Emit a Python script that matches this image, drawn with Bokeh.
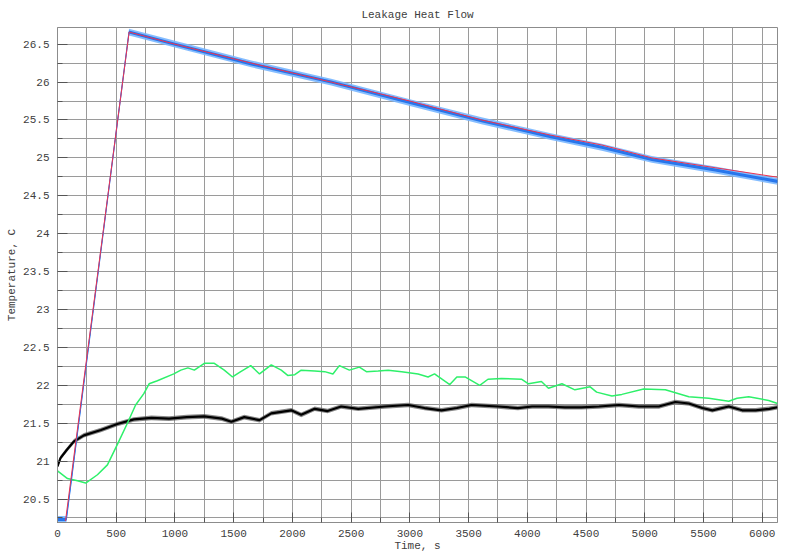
from bokeh.plotting import figure
from bokeh.models import FixedTicker, Range1d
from bokeh.embed import file_html
from bokeh.resources import INLINE

# ---- data ----
x_ticks = [0, 500, 1000, 1500, 2000, 2500, 3000, 3500, 4000, 4500, 5000, 5500, 6000]
x_tick_labels = ["0", "500", "1000", "1500", "2000", "2500", "3000", "3500", "4000", "4500", "5000", "5500", "6000"]
y_ticks = [20.5, 21.0, 21.5, 22.0, 22.5, 23.0, 23.5, 24.0, 24.5, 25.0, 25.5, 26.0, 26.5]
y_tick_labels = ["20.5", "21", "21.5", "22", "22.5", "23", "23.5", "24", "24.5", "25", "25.5", "26", "26.5"]

# measured sensor (blue, noisy)
meas_time = [0, 75, 609, 1000, 1650, 2330, 3000, 3610, 4200, 4634, 5060, 5600, 6130]
meas_temp = [20.23, 20.23, 26.66, 26.50, 26.24, 26.00, 25.73, 25.49, 25.28, 25.14, 24.98, 24.84, 24.69]

# model (red)
model_time = [68, 610, 1000, 1650, 2330, 3000, 3610, 4200, 4634, 5060, 5600, 6130]
model_temp = [20.21, 26.66, 26.50, 26.25, 26.00, 25.75, 25.50, 25.30, 25.17, 25.00, 24.87, 24.745]

# green sensor
green_time = [0, 85, 170, 240, 340, 425, 510, 595, 665, 735, 780, 850, 990, 1050, 1110, 1165, 1250, 1335,
              1420, 1490, 1560, 1645, 1720, 1820, 1905, 1960, 2020, 2075, 2190, 2275, 2345, 2400, 2485, 2570,
              2630, 2730, 2815, 2930, 3070, 3155, 3210, 3340, 3400, 3470, 3595, 3665, 3780, 3950, 4010, 4120,
              4180, 4295, 4405, 4535, 4590, 4720, 4805, 4990, 5175, 5375, 5545, 5715, 5785, 5885, 6055, 6130]
green_temp = [20.87, 20.77, 20.74, 20.71, 20.82, 20.95, 21.22, 21.50, 21.74, 21.89, 22.02, 22.06, 22.15, 22.20,
              22.23, 22.20, 22.29, 22.29, 22.20, 22.11, 22.18, 22.26, 22.15, 22.27, 22.20, 22.13, 22.14, 22.20,
              22.19, 22.18, 22.15, 22.26, 22.20, 22.24, 22.18, 22.19, 22.20, 22.18, 22.15, 22.11, 22.15, 22.01,
              22.11, 22.11, 22.00, 22.08, 22.09, 22.08, 22.02, 22.05, 21.96, 22.02, 21.94, 21.98, 21.91, 21.86,
              21.88, 21.95, 21.94, 21.85, 21.83, 21.79, 21.83, 21.85, 21.80, 21.76]

# black sensor
black_time = [0, 25, 80, 140, 225, 370, 510, 650, 800, 950, 1100, 1250, 1400, 1480, 1590, 1720, 1820, 1990,
              2075, 2190, 2300, 2415, 2560, 2785, 2985, 3125, 3270, 3400, 3525, 3750, 3920, 4040, 4180, 4320,
              4460, 4610, 4780, 4950, 5120, 5260, 5375, 5490, 5575, 5715, 5830, 5945, 6060, 6130]
black_temp = [20.93, 21.04, 21.15, 21.26, 21.34, 21.41, 21.49, 21.55, 21.57, 21.56, 21.58, 21.59, 21.56, 21.52,
              21.58, 21.54, 21.63, 21.67, 21.61, 21.69, 21.66, 21.72, 21.69, 21.72, 21.74, 21.70, 21.67, 21.70,
              21.74, 21.72, 21.70, 21.72, 21.72, 21.71, 21.71, 21.72, 21.74, 21.72, 21.72, 21.78, 21.76, 21.70,
              21.67, 21.72, 21.67, 21.67, 21.69, 21.71]

# noise-band half widths (style: visual thickness of the noisy traces)
meas_noise_outer = 0.045
meas_noise_inner = 0.02
black_noise = 0.03

FONT = "Liberation Mono"
TXT = "#404040"

p = figure(width=792, height=554, output_backend="svg", toolbar_location=None,
           title="Leakage Heat Flow",
           x_range=Range1d(0, 6130), y_range=Range1d(20.19, 26.72),
           min_border_left=57, min_border_right=15, min_border_top=0, min_border_bottom=0)

p.background_fill_color = "white"
p.border_fill_color = "white"
p.outline_line_color = "#8c8c8c"
p.outline_line_width = 1

p.title.text_font = FONT
p.title.text_font_size = "11px"
p.title.text_font_style = "normal"
p.title.text_color = TXT
p.title.align = "center"
p.title.standoff = 13

minor_x = [t + 250 for t in x_ticks]
minor_y = [t + 0.25 for t in y_ticks] + [20.25]
p.xaxis.ticker = FixedTicker(ticks=x_ticks, minor_ticks=minor_x)
p.yaxis.ticker = FixedTicker(ticks=y_ticks, minor_ticks=minor_y)
p.xaxis.major_label_overrides = {t: l for t, l in zip(x_ticks, x_tick_labels)}
p.yaxis.major_label_overrides = {t: l for t, l in zip(y_ticks, y_tick_labels)}

for ax in (p.xaxis[0], p.yaxis[0]):
    ax.axis_line_color = "#8c8c8c"
    ax.major_tick_in = 10
    ax.major_tick_out = 0
    ax.minor_tick_in = 5
    ax.minor_tick_out = 0
    ax.major_tick_line_color = "#555555"
    ax.minor_tick_line_color = "#555555"
    ax.major_label_text_font = FONT
    ax.major_label_text_font_size = "11px"
    ax.major_label_text_color = TXT
    ax.axis_label_text_font = FONT
    ax.axis_label_text_font_size = "11px"
    ax.axis_label_text_font_style = "normal"
    ax.axis_label_text_color = TXT

p.xaxis.axis_label = "Time, s"
p.yaxis.axis_label = "Temperature, C"
p.xaxis.major_label_standoff = 7
p.xaxis.axis_label_standoff = 0
p.yaxis.major_label_standoff = 8
p.yaxis.axis_label_standoff = 2

for g in (p.xgrid[0], p.ygrid[0]):
    g.grid_line_color = "#9a9a9a"
    g.grid_line_width = 1
    g.minor_grid_line_color = "#9a9a9a"
    g.minor_grid_line_width = 1

# black sensor
p.varea(x=black_time, y1=[v - black_noise for v in black_temp], y2=[v + black_noise for v in black_temp],
        fill_color="#555555", fill_alpha=0.7)
p.line(black_time, black_temp, line_color="black", line_width=2.2)

# green sensor
p.line(green_time, green_temp, line_color="#2ef06a", line_width=1.5)

# measured (blue, noisy)
p.varea(x=meas_time, y1=[v - meas_noise_outer for v in meas_temp], y2=[v + meas_noise_outer for v in meas_temp],
        fill_color="#78b6ff", fill_alpha=0.9)
p.varea(x=meas_time, y1=[v - meas_noise_inner for v in meas_temp], y2=[v + meas_noise_inner for v in meas_temp],
        fill_color="#1f6fe8", fill_alpha=0.95)
p.line(meas_time, meas_temp, line_color="#2a78ee", line_width=1.2)

# model (red)
p.line(model_time, model_temp, line_color="#ee3350", line_width=1)

open("out.html", "w").write(file_html(p, INLINE))
